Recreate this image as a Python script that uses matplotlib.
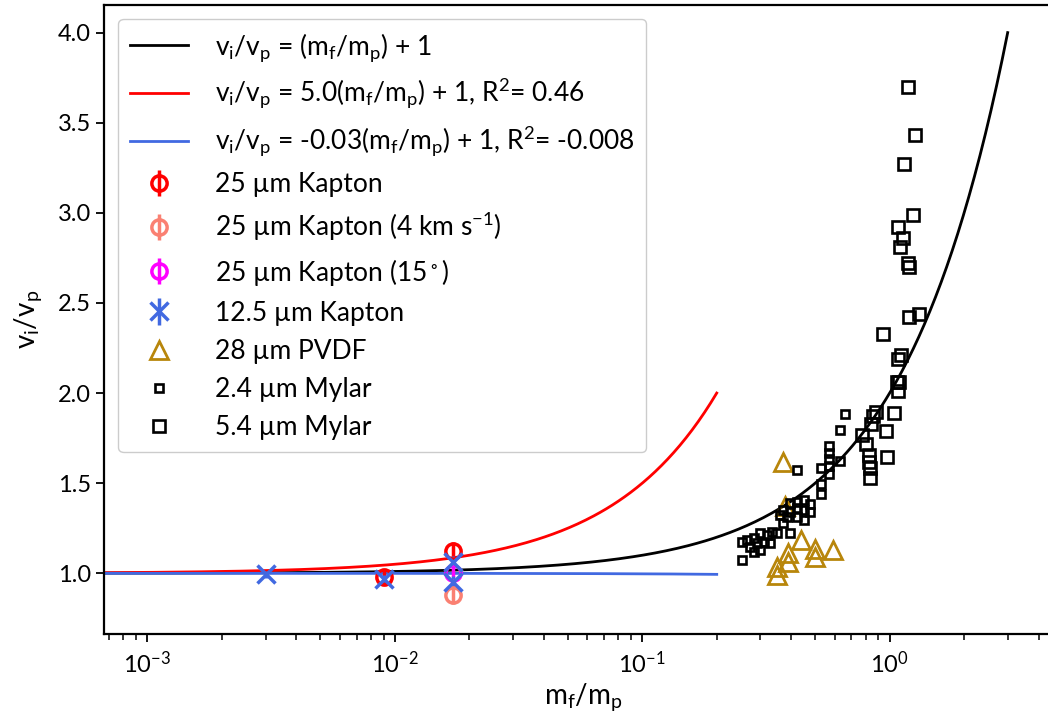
import numpy as np
import matplotlib
matplotlib.use("Agg")
import matplotlib.pyplot as plt

plt.rcParams['font.family'] = ['Lato', 'DejaVu Sans']
plt.rcParams['mathtext.default'] = 'regular'

# --- data ---------------------------------------------------------------
# 25 um Kapton
kap25_x = [0.0090, 0.0171]
kap25_y = [0.98, 1.125]
kap25_err = [0.04, 0.05]
# 25 um Kapton at 4 km/s
kap25_4_x = [0.0171]
kap25_4_y = [0.88]
kap25_4_err = [0.05]
# 25 um Kapton at 15 degrees
kap25_15_x = [0.0171]
kap25_15_y = [1.003]
kap25_15_err = [0.04]
# 12.5 um Kapton
kap125_x = [0.0030, 0.0090, 0.0171, 0.0171]
kap125_y = [0.995, 0.97, 1.064, 0.953]
kap125_err = [0.02, 0.02, 0.03, 0.03]
# 28 um PVDF
pvdf_x = [0.372, 0.379, 0.439, 0.50, 0.589, 0.39, 0.50, 0.39, 0.35, 0.35]
pvdf_y = [1.619, 1.373, 1.185, 1.133, 1.129, 1.111, 1.092, 1.064, 1.037, 0.99]
# 2.4 um Mylar
my24_x = [0.663, 0.629, 0.571, 0.571, 0.571, 0.571, 0.571, 0.631, 0.526, 0.422,
          0.526, 0.526, 0.397, 0.422, 0.449, 0.477, 0.372, 0.397, 0.422, 0.449,
          0.477, 0.361, 0.385, 0.422, 0.449, 0.372, 0.397, 0.350, 0.253, 0.265,
          0.282, 0.300, 0.319, 0.334, 0.273, 0.291, 0.310, 0.329, 0.300, 0.282,
          0.253]
my24_y = [1.884, 1.794, 1.706, 1.669, 1.633, 1.595, 1.551, 1.623, 1.583, 1.572,
          1.494, 1.438, 1.388, 1.397, 1.407, 1.385, 1.351, 1.342, 1.361, 1.351,
          1.342, 1.324, 1.314, 1.314, 1.296, 1.281, 1.222, 1.225, 1.175, 1.185,
          1.194, 1.222, 1.213, 1.231, 1.148, 1.166, 1.175, 1.166, 1.129, 1.120,
          1.074]
# 5.4 um Mylar
my54_x = [1.188, 1.267, 1.144, 1.244, 1.080, 1.130, 1.100, 1.190, 1.200, 1.310,
          1.200, 0.939, 1.113, 1.080, 1.070, 1.090, 1.080, 0.884, 1.043, 0.855,
          0.839, 0.968, 0.772, 0.800, 0.980, 0.829, 0.829, 0.830, 0.831]
my54_y = [3.70, 3.43, 3.27, 2.99, 2.92, 2.86, 2.81, 2.72, 2.70, 2.44,
          2.42, 2.33, 2.21, 2.19, 2.06, 2.06, 2.01, 1.897, 1.89, 1.87,
          1.83, 1.79, 1.77, 1.716, 1.647, 1.656, 1.62, 1.586, 1.53]

# model lines: v_i/v_p = a (m_f/m_p) + 1
theory_slope = 1.0
red_slope = 5.0
blue_slope = -0.03
theory_xmax = 3.0
fit_xmax = 0.2

# --- figure -------------------------------------------------------------
fig = plt.figure(figsize=(10.48, 7.19), dpi=100)
ax = fig.add_axes([0.0992, 0.1182, 0.9147, 0.8753])

xt = np.logspace(-4, np.log10(theory_xmax), 400)
xf = np.logspace(-4, np.log10(fit_xmax), 400)
h_black, = ax.plot(xt, theory_slope * xt + 1, color='black', lw=2,
                   label=r'$v_i/v_p$ = ($m_f/m_p$) + 1')
h_red, = ax.plot(xf, red_slope * xf + 1, color='red', lw=2,
                 label=r'$v_i/v_p$ = 5.0($m_f/m_p$) + 1, R$^2$= 0.46')
h_blue, = ax.plot(xf, blue_slope * xf + 1, color='royalblue', lw=2,
                  label=r'$v_i/v_p$ = -0.03($m_f/m_p$) + 1, R$^2$= -0.008')

h_pvdf, = ax.plot(pvdf_x, pvdf_y, linestyle='none', marker='^', ms=13,
                  mfc='none', mec='darkgoldenrod', mew=2, label='28 µm PVDF')
h_my24, = ax.plot(my24_x, my24_y, linestyle='none', marker='s', ms=5.5,
                  mfc='none', mec='black', mew=1.9, label='2.4 µm Mylar')
h_my54, = ax.plot(my54_x, my54_y, linestyle='none', marker='s', ms=9,
                  mfc='none', mec='black', mew=1.9, label='5.4 µm Mylar')

eb_kw = dict(linestyle='none', mfc='none', elinewidth=2.5, capsize=0)
h_k25 = ax.errorbar(kap25_x, kap25_y, yerr=kap25_err, marker='o', ms=11,
                    mew=2.5, color='red', label='25 µm Kapton', **eb_kw)
h_k25_4 = ax.errorbar(kap25_4_x, kap25_4_y, yerr=kap25_4_err, marker='o',
                      ms=11, mew=2.5, color='salmon',
                      label='25 µm Kapton (4 km s$^{-1}$)', **eb_kw)
h_k25_15 = ax.errorbar(kap25_15_x, kap25_15_y, yerr=kap25_15_err, marker='o',
                       ms=11, mew=2.5, color='magenta',
                       label='25 µm Kapton (15$^\\circ$)', **eb_kw)
h_k125 = ax.errorbar(kap125_x, kap125_y, yerr=kap125_err, marker='x', ms=13,
                     mew=2.5, color='royalblue', label='12.5 µm Kapton', **eb_kw)

ax.set_xscale('log')
ax.set_xlim(6.67e-4, 5.0)
ax.set_ylim(0.663, 4.155)
ax.set_yticks([1.0, 1.5, 2.0, 2.5, 3.0, 3.5, 4.0])
ax.tick_params(axis='both', which='major', labelsize=17, length=6, width=1.3)
ax.tick_params(axis='x', which='major', pad=6)
ax.tick_params(axis='x', which='minor', length=4, width=1.1)
for s in ax.spines.values():
    s.set_linewidth(1.6)
ax.spines['right'].set_visible(False)

ax.set_xlabel(r'$m_f/m_p$', fontsize=20, labelpad=3)
ax.set_ylabel(r'$v_i/v_p$', fontsize=20, labelpad=10)

handles = [h_black, h_red, h_blue, h_k25, h_k25_4, h_k25_15, h_k125,
           h_pvdf, h_my24, h_my54]
ax.legend(handles=handles, loc='upper left', fontsize=19, handlelength=2.2,
          handletextpad=1.0, borderaxespad=0.55, labelspacing=0.5,
          borderpad=0.45, framealpha=1.0, edgecolor='0.8', fancybox=True)

fig.savefig('out.png', dpi=100)
